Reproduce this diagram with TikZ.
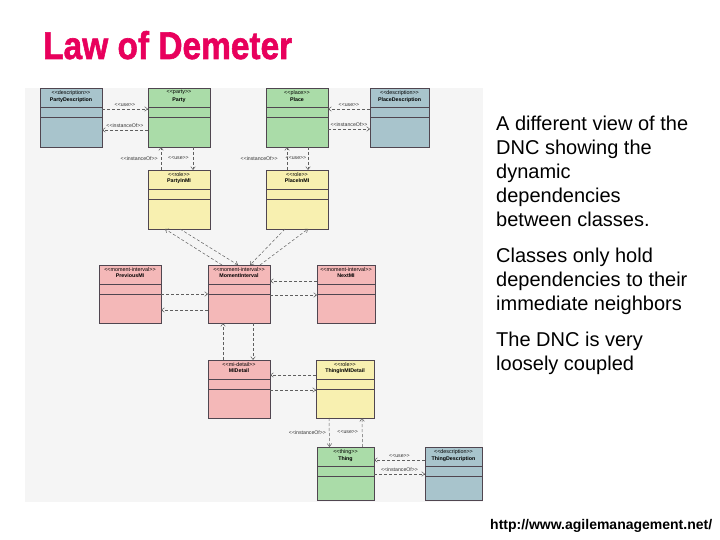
\documentclass[tikz,border=0pt]{standalone}
\usepackage{fontspec}
\usepackage{graphicx}
\setmainfont{Liberation Sans}
\newfontfamily\titlefont[FakeBold=1.6]{Liberation Sans}
\usepackage{xcolor}
\usepackage{tikz}
\usetikzlibrary{arrows.meta,positioning,shadows,calc}

\definecolor{descblue}{RGB}{168,196,204}
\definecolor{thinggreen}{RGB}{170,220,168}
\definecolor{roleyellow}{RGB}{248,240,176}
\definecolor{mipink}{RGB}{244,184,184}
\definecolor{shadownavy}{RGB}{30,30,72}
\definecolor{boxline}{RGB}{80,70,80}
\definecolor{titlered}{RGB}{232,0,92}
\definecolor{diagbg}{RGB}{245,245,245}
\definecolor{depgray}{RGB}{95,95,95}

% one UML class: name, options, stereotype, class name
\newcommand{\umlclass}[4]{%
  \node[classbox,#2] (#1) {};
  \node[stereo,below=2pt of #1.north] (#1-st) {<{}<#3>{}>};
  \node[classname,below=2.2pt of #1-st] (#1-nm) {#4};
  \draw[compline] ([yshift=-19pt]#1.north west) -- ([yshift=-19pt]#1.north east);
  \draw[compline] ([yshift=-29pt]#1.north west) -- ([yshift=-29pt]#1.north east);
}

\begin{document}
\begin{tikzpicture}[
  x=1pt,y=-1pt,
  classbox/.style={rectangle,draw=boxline,line width=0.5pt,minimum width=62pt,minimum height=59pt,
    inner sep=0pt,outer sep=0pt,
    drop shadow={shadow xshift=1.4pt,shadow yshift=-1.4pt,fill=shadownavy,opacity=1}},
  descfill/.style={classbox,fill=descblue},
  thingfill/.style={classbox,fill=thinggreen},
  rolefill/.style={classbox,fill=roleyellow},
  mifill/.style={classbox,fill=mipink},
  stereo/.style={font=\fontsize{5.4}{5.4}\selectfont,inner sep=0pt},
  classname/.style={font=\fontsize{5.3}{5.3}\selectfont\bfseries,inner sep=0pt},
  compline/.style={draw=boxline,line width=0.45pt},
  dep/.style={draw=depgray,line width=0.5pt,dash pattern=on 3pt off 2pt,
    -{Straight Barb[length=3pt,width=4.5pt]}},
  lbl/.style={font=\fontsize{5.2}{5.2}\selectfont,text=black!80,inner sep=0pt},
  bodytext/.style={font=\fontsize{20}{24}\selectfont,align=left,inner sep=0pt,anchor=north west}
]
\useasboundingbox (0,0) rectangle (720,540);
\fill[white] (0,0) rectangle (720,540);

% title
\node[anchor=base west,inner sep=0pt,text=titlered] (title) at (43,59)
  {\resizebox{249pt}{28pt}{\titlefont\bfseries Law of Demeter}};

% diagram area
\fill[diagbg] (25,88) rectangle (483,502);

% top row
\umlclass{pdesc}{descfill,anchor=north west,at={(40,88)}}{description}{PartyDescription}
\umlclass{party}{thingfill,right=46pt of pdesc}{party}{Party}
\umlclass{place}{thingfill,right=56pt of party}{place}{Place}
\umlclass{pldesc}{descfill,right=42pt of place,minimum width=59pt}{description}{PlaceDescription}
% roles
\umlclass{prole}{rolefill,below=23pt of party}{role}{PartyInMI}
\umlclass{plrole}{rolefill,below=23pt of place}{role}{PlaceInMI}
% moment-intervals
\umlclass{mi}{mifill,anchor=north west,at={(208,265)},minimum height=58pt}{moment-interval}{MomentInterval}
\umlclass{prevmi}{mifill,left=47pt of mi,minimum height=58pt}{moment-interval}{PreviousMI}
\umlclass{nextmi}{mifill,right=47pt of mi,minimum width=58pt,minimum height=58pt}{moment-interval}{NextMI}
\umlclass{midet}{mifill,below=37pt of mi,minimum height=58pt}{mi-detail}{MIDetail}
\umlclass{trole}{rolefill,right=46pt of midet,minimum width=58pt,minimum height=58pt}{role}{ThingInMIDetail}
% things
\umlclass{thing}{thingfill,anchor=north west,at={(317,447)},minimum width=57pt,minimum height=53pt}{thing}{Thing}
\umlclass{thdesc}{descfill,right=51pt of thing,minimum width=57pt,minimum height=53pt}{description}{ThingDescription}

% dependencies, top row
\draw[dep] ([yshift=8.5pt]pdesc.east) -- node[lbl,above=2pt] (pdesc-use) {<{}<use>{}>} ([yshift=8.5pt]party.west);
\draw[dep] ([yshift=-12.5pt]party.west) -- node[lbl,above=2pt] (pdesc-inst) {<{}<instanceOf>{}>} ([yshift=-12.5pt]pdesc.east);
\draw[dep] ([yshift=8.5pt]pldesc.west) -- node[lbl,above=2pt] (pldesc-use) {<{}<use>{}>} ([yshift=8.5pt]place.east);
\draw[dep] ([yshift=-11.5pt]place.east) -- node[lbl,above=2pt] (pldesc-inst) {<{}<instanceOf>{}>} ([yshift=-11.5pt]pldesc.west);

% party / place and their roles
\draw[dep] ([xshift=-18pt]prole.north) -- node[lbl,left=3pt] (prole-inst) {<{}<instanceOf>{}>} ([xshift=-18pt]party.south);
\draw[dep] ([xshift=14pt]party.south) -- node[lbl,left=4pt] (prole-use) {<{}<use>{}>} ([xshift=14pt]prole.north);
\draw[dep] ([xshift=-10pt]plrole.north) -- node[lbl,left=9pt] (plrole-inst) {<{}<instanceOf>{}>} ([xshift=-10pt]place.south);
\draw[dep] ([xshift=11pt]place.south) -- node[lbl,left=1.5pt] (plrole-use) {<{}<use>{}>} ([xshift=11pt]plrole.north);

% roles and the moment-interval
\draw[dep] ([xshift=-17pt]mi.north) -- ([xshift=-14pt]prole.south);
\draw[dep] ([xshift=1pt]prole.south) -- ([xshift=-1pt]mi.north);
\draw[dep] ([xshift=-12pt]plrole.south) -- ([xshift=11pt]mi.north);
\draw[dep] ([xshift=21pt]mi.north) -- ([xshift=11pt]plrole.south);

% previous / next
\draw[dep] (prevmi.east) -- (mi.west);
\draw[dep] ([yshift=-16pt]mi.west) -- ([yshift=-16pt]prevmi.east);
\draw[dep] ([yshift=13pt]nextmi.west) -- ([yshift=13pt]mi.east);
\draw[dep] ([yshift=-1pt]mi.east) -- ([yshift=-1pt]nextmi.west);

% detail
\draw[dep] ([xshift=-16pt]midet.north) -- ([xshift=-16pt]mi.south);
\draw[dep] ([xshift=14pt]mi.south) -- ([xshift=14pt]midet.north);
\draw[dep] ([yshift=14pt]trole.west) -- ([yshift=14pt]midet.east);
\draw[dep] ([yshift=-1pt]midet.east) -- ([yshift=-1pt]trole.west);

% thing
\draw[dep] ([xshift=-16pt]trole.south) -- node[lbl,left=3pt] (thing-inst) {<{}<instanceOf>{}>} ([xshift=-16pt]thing.north);
\draw[dep] ([xshift=17pt]thing.north) -- node[lbl,left=4pt] (thing-use) {<{}<use>{}>} ([xshift=17pt]trole.south);
\draw[dep] ([yshift=13.5pt]thdesc.west) -- node[lbl,above=2pt] (thdesc-use) {<{}<use>{}>} ([yshift=13.5pt]thing.east);
\draw[dep] ([yshift=-0.5pt]thing.east) -- node[lbl,above=2pt] (thdesc-inst) {<{}<instanceOf>{}>} ([yshift=-0.5pt]thdesc.west);

% text on the right
\node[bodytext] (para1) at (496,116) {A different view of the\\DNC showing the\\dynamic\\dependencies\\between classes.};
\node[bodytext] (para2) at (496,248) {Classes only hold\\dependencies to their\\immediate neighbors};
\node[bodytext] (para3) at (496,332) {The DNC is very\\loosely coupled};
\node[anchor=base west,inner sep=0pt,font=\fontsize{14}{16}\selectfont\bfseries] (url) at (490,529) {http://www.agilemanagement.net/};
\end{tikzpicture}
\end{document}
